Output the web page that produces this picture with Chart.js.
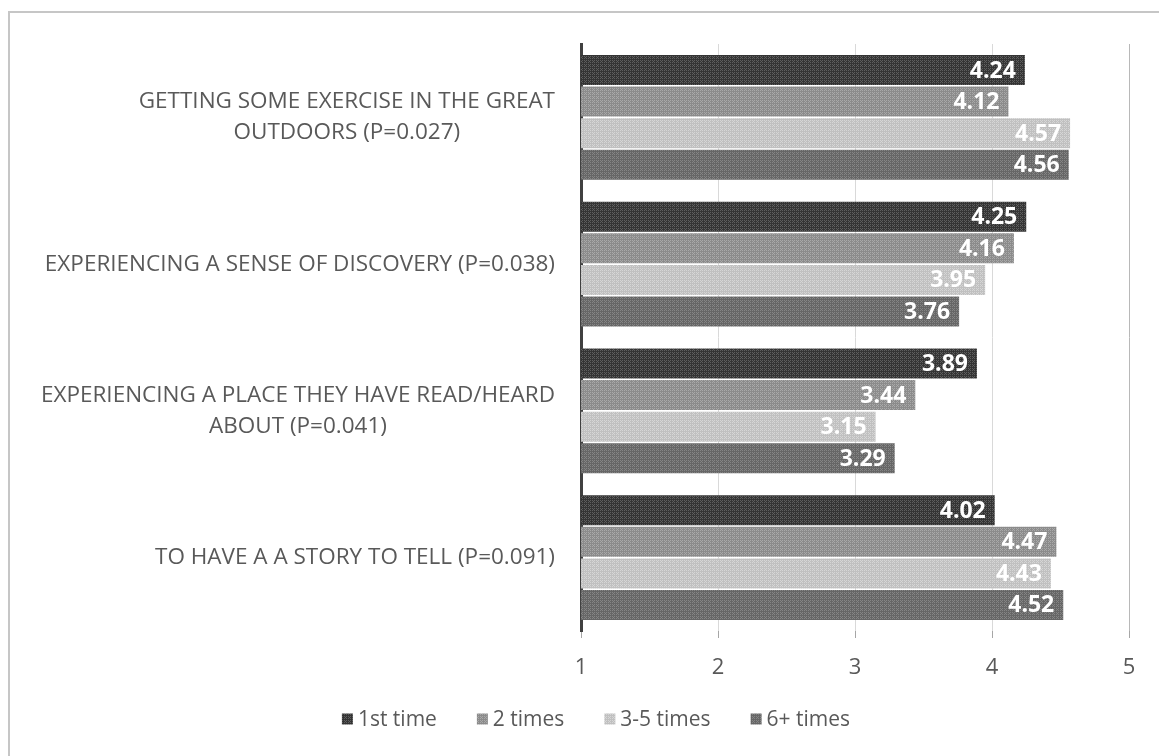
<!DOCTYPE html>
<html>
<head>
<meta charset="utf-8">
<script src="https://cdn.jsdelivr.net/npm/chart.js@4.4.1/dist/chart.umd.min.js"></script>
<style>
  html, body { margin: 0; padding: 0; background: #fff; overflow: hidden; width: 1159px; height: 756px; }
  #wrap { position: absolute; left: 0; top: 0; width: 1192px; height: 756px; }
  #frame { position: absolute; left: 8px; top: 11px; width: 1300px; height: 900px;
           border-left: 2px solid #c6c6c6; border-top: 2px solid #c6c6c6; pointer-events: none; }
</style>
</head>
<body>
<div id="wrap"><canvas id="c" width="1192" height="756"></canvas></div>
<div id="frame"></div>
<script>
// Motivations, each split into the lines it is printed on
const categories = [
  ['GETTING SOME EXERCISE IN THE GREAT', 'OUTDOORS (P=0.027)'],
  ['EXPERIENCING A SENSE OF DISCOVERY (P=0.038)'],
  ['EXPERIENCING A PLACE THEY HAVE READ/HEARD', 'ABOUT (P=0.041)'],
  ['TO HAVE A A STORY TO TELL (P=0.091)']
];
const seriesNames = ['1st time', '2 times', '3-5 times', '6+ times'];

// Mean ratings per visit-frequency group
const firstTime   = [4.24, 4.25, 3.89, 4.02];
const twoTimes    = [4.12, 4.16, 3.44, 4.47];
const threeToFive = [4.57, 3.95, 3.15, 4.43];
const sixPlus     = [4.56, 3.76, 3.29, 4.52];

const xTicks = [1, 2, 3, 4, 5];

const FONT = '"Open Sans", "Noto Sans", sans-serif';
const TEXT_GREY = '#595959';

// Small stippled tile used as the fill of each bar
function stipple(base, dot) {
  const t = document.createElement('canvas');
  t.width = 4; t.height = 4;
  const g = t.getContext('2d');
  g.fillStyle = base; g.fillRect(0, 0, 4, 4);
  g.fillStyle = dot;
  g.fillRect(0, 0, 1, 1); g.fillRect(2, 0, 1, 1);
  g.fillRect(0, 2, 1, 1); g.fillRect(2, 2, 1, 1);
  g.fillRect(1, 1, 1, 1);
  return g.createPattern(t, 'repeat');
}

const fills = [
  stipple('#343434', '#5e5e5e'),
  stipple('#8b8b8b', '#a9a9a9'),
  stipple('#c0c0c0', '#d6d6d6'),
  stipple('#666666', '#858585')
];
const seriesValues = [firstTime, twoTimes, threeToFive, sixPlus];

// White value labels placed just inside the end of each bar
const valueLabels = {
  id: 'valueLabels',
  afterDatasetsDraw(chart) {
    const ctx = chart.ctx;
    ctx.save();
    ctx.font = 'bold 23px ' + FONT;
    ctx.fillStyle = '#ffffff';
    ctx.textAlign = 'right';
    ctx.textBaseline = 'middle';
    chart.data.datasets.forEach((ds, di) => {
      chart.getDatasetMeta(di).data.forEach((bar, i) => {
        ctx.fillText(ds.data[i].toFixed(2), bar.x - 9, bar.y + 1);
      });
    });
    ctx.restore();
  }
};

// Category names: right-aligned against the axis, lines centred on each other
const categoryLabels = {
  id: 'categoryLabels',
  afterDraw(chart) {
    const ctx = chart.ctx;
    const yScale = chart.scales.y;
    const left = chart.chartArea.left;
    ctx.save();
    ctx.font = '22.5px ' + FONT;
    ctx.fillStyle = TEXT_GREY;
    ctx.textAlign = 'center';
    ctx.textBaseline = 'middle';
    const lineHeight = 31;
    categories.forEach((lines, i) => {
      const cy = yScale.getPixelForTick(i);
      const w = Math.max(...lines.map(l => ctx.measureText(l).width));
      const cx = left - 26 - w / 2;
      lines.forEach((l, k) => {
        ctx.fillText(l, cx, cy + (k - (lines.length - 1) / 2) * lineHeight);
      });
    });
    ctx.restore();
  }
};

// Series key below the axis: small swatch, short gap, name
const seriesKey = {
  id: 'seriesKey',
  afterDraw(chart) {
    const ctx = chart.ctx;
    const box = 11, gap = 5, spacing = 40, cy = 719, cx = 596;
    ctx.save();
    ctx.font = '21px ' + FONT;
    ctx.textBaseline = 'middle';
    ctx.textAlign = 'left';
    const items = chart.data.datasets.map(ds => ({
      text: ds.label, fill: ds.backgroundColor, w: box + gap + ctx.measureText(ds.label).width
    }));
    const total = items.reduce((a, it) => a + it.w, 0) + spacing * (items.length - 1);
    let x = cx - total / 2;
    items.forEach(it => {
      ctx.fillStyle = it.fill;
      ctx.fillRect(x, cy - box / 2, box, box);
      ctx.fillStyle = TEXT_GREY;
      ctx.fillText(it.text, x + box + gap, cy + 1);
      x += it.w + spacing;
    });
    ctx.restore();
  }
};

new Chart(document.getElementById('c'), {
  type: 'bar',
  data: {
    labels: categories,
    datasets: seriesNames.map((name, i) => ({
      label: name,
      data: seriesValues[i],
      backgroundColor: fills[i],
      borderWidth: 0,
      categoryPercentage: 0.86,
      barPercentage: 0.95
    }))
  },
  options: {
    indexAxis: 'y',
    responsive: false,
    animation: false,
    events: [],
    layout: { padding: { top: 44, left: 63, right: 63, bottom: 75 } },
    scales: {
      x: {
        type: 'linear',
        min: xTicks[0],
        max: xTicks[xTicks.length - 1],
        afterBuildTicks: s => { s.ticks = xTicks.map(v => ({ value: v })); },
        ticks: { color: TEXT_GREY, font: { family: FONT, size: 22 }, padding: 17 },
        grid: {
          color: c => (c.tick && c.tick.value === 5) ? '#b8b8b8' : '#d9d9d9',
          lineWidth: 1,
          drawTicks: true,
          tickLength: 7,
          tickColor: '#a6a6a6'
        },
        border: { display: false },
        afterFit: s => { s.height = 50; }
      },
      y: {
        type: 'category',
        ticks: { display: false },
        grid: { display: false },
        border: { display: true, color: '#404040', width: 3 },
        afterFit: s => { s.width = 518; }
      }
    },
    plugins: {
      legend: { display: false },
      tooltip: { enabled: false }
    }
  },
  plugins: [valueLabels, categoryLabels, seriesKey]
});
</script>
</body>
</html>
